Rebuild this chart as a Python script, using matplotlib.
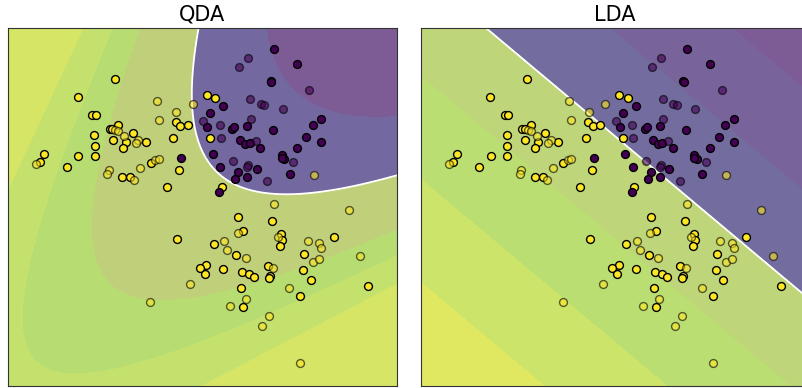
import numpy as np
import matplotlib.pyplot as plt

# points (feature 1, feature 2)
train_yellow_x = [106.7, 69.7, 84, 87.7, 110, 101.7, 104.5, 124.7, 86, 104.7, 117.7, 137.7, 165.5, 167.7, 172,
                  179.7, 86.7, 114.7, 36.3, 32.5, 70, 86.7, 58.7, 142.7, 171.5, 114.3, 122.2, 159.3, 198.7, 207.3,
                  202.2, 213.7, 230.3, 235.2, 169.3, 205.8, 228.3, 198.5, 191.8, 196.7, 215.5, 234, 241.5, 246.3,
                  233.2, 235.3, 264, 273.5, 274.3, 272.3, 325.7, 296, 259.7, 295.3, 262, 261.3, 302.7, 360.3, 292.5]
train_yellow_y = [306.3, 288.7, 270.7, 270.7, 261, 256.3, 256.5, 253, 251, 246, 243.3, 243.5, 247.5, 263.3, 259.3,
                  261, 240, 237.7, 232, 224, 229.3, 229.3, 218.7, 223, 215.5, 208.3, 209, 198.5, 291, 287.7,
                  247.8, 198.7, 168.7, 154.7, 146.5, 141.5, 130.3, 121, 117.7, 111.8, 116.3, 113.2, 111.7, 108.8,
                  97.8, 78.3, 164.5, 151.3, 146, 139.7, 148.5, 131.2, 119.2, 115.2, 109.3, 107.5, 105.5, 99.8, 90]

train_purple_x = [266, 289, 262.7, 263.5, 215, 202, 199.3, 224.5, 226.3, 239.3, 265.3, 313, 304.7, 298, 313, 232.5,
                  237.2, 241.7, 252.3, 289.5, 204.7, 273.8, 276.5, 273.8, 212.5, 230.5, 227.2, 239.2, 248.7, 281.7,
                  211.2, 173.3]
train_purple_y = [337, 322, 304.8, 303.2, 279.7, 272.5, 258.3, 256.5, 258.3, 259.7, 255.5, 266.8, 260.3, 248.7,
                  243.8, 246, 241.8, 242.8, 238, 237.3, 231.7, 231, 226.3, 227.3, 218.5, 213.8, 206.8, 208.8,
                  216.2, 211.7, 193.3, 227.3]

test_yellow_x = [148.7, 184.8, 168, 150.7, 107, 110, 116, 130.3, 127.5, 28, 147, 150.7, 132, 100.7, 99.5, 126,
                 305.7, 266, 340.7, 229.7, 270.2, 216, 219, 299.7, 311, 313, 237.7, 352, 305, 311, 265, 182.5,
                 281.5, 238, 222, 142.2, 261.3, 254.2, 292.3]
test_yellow_y = [284.2, 281.5, 274, 265.8, 255.7, 255, 250, 246, 242.3, 221.7, 226, 227, 217.2, 215.7, 211.3,
                 205.8, 210.8, 181.3, 175.3, 152.2, 148.3, 144.2, 136, 144.8, 142.3, 137.2, 127.2, 129.3, 123.3,
                 126.3, 118, 101.7, 98, 86.2, 79.5, 84, 69.3, 59.3, 22.2]

test_purple_x = [240, 231, 301.3, 242, 252.5, 256.3, 274.7, 242.7, 195.5, 211.8, 212.8, 247.6, 225.5, 240.2,
                 239.5, 285.3, 259.3]
test_purple_y = [327.2, 319, 295.8, 286.5, 281.8, 280.3, 276.3, 266.5, 265, 261, 247.8, 245, 225, 220.3, 218.8,
                 223.7, 204.2]

titles = ['QDA', 'LDA']

# both models are fit on the training points only
X0 = np.column_stack([train_purple_x, train_purple_y])
X1 = np.column_stack([train_yellow_x, train_yellow_y])
n0, n1 = len(X0), len(X1)
mu0, mu1 = X0.mean(0), X1.mean(0)
S0, S1 = np.cov(X0.T), np.cov(X1.T)
prior = np.log(n1 / n0)

xx, yy = np.meshgrid(np.linspace(0, 389, 400), np.linspace(0, 358, 400))
grid = np.column_stack([xx.ravel(), yy.ravel()])


def loglik(X, mu, S):
    d = X - mu
    Si = np.linalg.inv(S)
    return -0.5 * np.einsum('ij,jk,ik->i', d, Si, d) - 0.5 * np.log(np.linalg.det(S))


z_qda = (loglik(grid, mu1, S1) - loglik(grid, mu0, S0) + prior).reshape(xx.shape)

Sp = ((n0 - 1) * S0 + (n1 - 1) * S1) / (n0 + n1 - 2)
w = np.linalg.solve(Sp, mu1 - mu0)
b = -0.5 * (mu1 @ np.linalg.solve(Sp, mu1) - mu0 @ np.linalg.solve(Sp, mu0)) + prior
z_lda = (grid @ w + b).reshape(xx.shape)

s = 79 * np.linalg.norm(w)
qda_levels = [-1e6, -1.5 * s, 0, 1.65 * s, 2.5 * s, 3.5 * s, 1e6]
qda_colors = ['#7d5c96', '#7468a0', '#c0d07a', '#b7dd72', '#c5e16d', '#d6e566']
lda_levels = [-1e6, -2 * s, -s, 0, s, 2 * s, 3 * s, 1e6]
lda_colors = ['#7d5c96', '#78649b', '#736d9f', '#bed579', '#bbde73', '#cde46b', '#e0e862']

fig = plt.figure(figsize=(8.02, 3.88), dpi=100)
ax1 = fig.add_axes([8 / 802, 2.5 / 388, 389 / 802, 358 / 388])
ax2 = fig.add_axes([420.5 / 802, 2.5 / 388, 389 / 802, 358 / 388])

for ax, z, lev, cols, title in zip([ax1, ax2], [z_qda, z_lda], [qda_levels, lda_levels],
                                   [qda_colors, lda_colors], titles):
    ax.contourf(xx, yy, z, levels=lev, colors=cols)
    ax.contour(xx, yy, z, levels=[0], colors='white', linewidths=1.3)
    ax.scatter(train_yellow_x, train_yellow_y, c='#fde725', edgecolors='k', s=32, linewidths=1, zorder=3)
    ax.scatter(train_purple_x, train_purple_y, c='#440154', edgecolors='k', s=32, linewidths=1, zorder=3)
    ax.scatter(test_yellow_x, test_yellow_y, c='#fde725', edgecolors='k', s=32, linewidths=1, alpha=0.6, zorder=3)
    ax.scatter(test_purple_x, test_purple_y, c='#440154', edgecolors='k', s=32, linewidths=1, alpha=0.6, zorder=3)
    ax.set_xlim(0, 389)
    ax.set_ylim(0, 358)
    ax.set_xticks([])
    ax.set_yticks([])
    for sp in ax.spines.values():
        sp.set_color('#333333')
    ax.set_title(title, fontsize=15, pad=5)

fig.savefig('out.png', dpi=100)
